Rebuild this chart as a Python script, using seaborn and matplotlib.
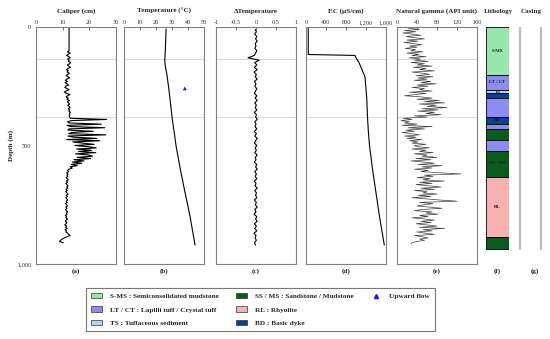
import numpy as np
import pandas as pd
import seaborn as sns
import matplotlib.pyplot as plt
from matplotlib.patches import Patch
from matplotlib.lines import Line2D
from matplotlib.ticker import FuncFormatter

sns.set_style("white")
plt.rcParams["font.family"] = ["Liberation Serif", "DejaVu Serif"]

# --- Daten ---
# Kaliber (cm), alle 5 m ab 0 m
caliper = [12.4] * 21 + [
    11.8, 12.9, 12.1, 11.5, 12.3, 12.8, 11.9, 12.4, 12.1, 13.0, 12.6, 11.8, 12.2, 12.9,
    12.0, 11.4, 12.1, 11.7, 12.5, 12.0, 11.3, 11.9, 12.6, 11.5, 11.0, 11.8, 10.9, 11.6,
    12.2, 11.1, 10.8, 11.7, 12.4, 11.2, 10.6, 11.5, 12.7, 11.9, 11.3, 12.1, 11.6, 12.5,
    11.8, 12.2, 12.6, 11.9, 12.4, 12.8, 12.1, 12.6, 12.3, 12.9, 12.5, 12.7, 12.4,
    12.6, 12.8, 26.5, 13.2, 11.8, 12.5, 24.5, 11.6, 13.0, 25.8, 12.4, 11.9, 21.5, 13.5,
    12.2, 26.2, 12.0, 14.0, 22.8, 11.5, 23.9, 13.8, 17.5, 21.8, 14.6, 19.5, 22.6, 15.2,
    20.8, 16.0, 22.4, 14.8, 19.6, 21.2, 15.4, 20.5, 14.2, 18.0, 13.6, 17.2, 13.2, 15.5,
    12.8, 13.6, 12.4,
    11.8, 12.2, 11.5, 12.0, 11.6, 11.9, 11.3, 11.7, 12.1, 11.4, 11.8, 11.2, 11.6, 12.0,
    11.5, 11.9, 11.3, 11.7, 11.1, 11.6, 12.0, 11.4, 11.8, 11.2, 11.5, 11.9, 11.3, 11.7,
    11.0, 11.5, 11.8, 11.2, 11.6, 11.1, 11.4, 11.9, 11.3, 11.7, 11.0, 11.5, 11.2, 11.8,
    11.4, 11.0, 11.6, 11.3, 10.8, 11.5, 11.1, 11.7, 10.9, 11.4, 11.2, 11.9, 12.3, 12.8,
    11.6, 10.6, 9.8, 9.2, 8.8, 10.2]
cal_depth = np.arange(len(caliper)) * 5

# Temperatur (°C)
temp_depth = [8, 50, 100, 140, 160, 200, 250, 300, 380, 450, 500, 600, 700, 800, 920]
temperature = [26.3, 26.1, 25.8, 25.5, 25.7, 26.8, 27.8, 28.7, 30.0, 31.5, 32.5, 35.2, 38.2, 41.3, 44.4]

# Aufwärtsströmung
flow_depth = [259]
flow_temp = [38]

# Delta-Temperatur, alle 10 m ab 10 m
delta_t = [
    -0.02, 0.01, -0.03, 0.02, -0.01, 0.03, -0.02, 0.00, -0.03, 0.02, -0.01, -0.04, -0.20,
    0.08, -0.03, 0.02, -0.04, 0.03, -0.05, 0.01, -0.02, 0.03, -0.04, 0.00, -0.03, 0.02,
    -0.01, -0.04, 0.02, -0.02, 0.03, -0.03, 0.01, -0.02, 0.02, -0.04, 0.01, -0.01, 0.03,
    -0.03, 0.00, -0.02, 0.02, -0.04, 0.01, -0.03, 0.03, -0.01, -0.04, 0.02, -0.02, 0.01,
    -0.03, 0.03, -0.02, 0.00, -0.04, 0.02, -0.01, 0.03, -0.03, 0.01, -0.02, 0.02, -0.04,
    0.00, -0.02, 0.03, -0.03, 0.01, -0.01, 0.02, -0.04, 0.01, -0.02, 0.03, -0.03, 0.00,
    -0.05, 0.02, -0.01, 0.03, -0.04, 0.01, -0.03, 0.02, -0.05, 0.00, -0.02, 0.01, -0.04, -0.01]
dt_depth = 10 + np.arange(len(delta_t)) * 10

# Elektrische Leitfähigkeit (µS/cm)
ec_depth = [5, 60, 116, 120, 130, 150, 210, 300, 380, 435, 500, 600, 700, 800, 920]
ec = [45, 45, 45, 980, 1000, 1060, 1180, 1215, 1230, 1245, 1270, 1330, 1400, 1470, 1566]

# Natürliche Gammastrahlung (API), alle 5 m ab 5 m
gamma = [
    22, 45, 15, 38, 12, 30, 48, 18, 35, 55, 20, 42, 14, 33, 50, 25, 40, 16, 37, 28, 52, 19,
    44, 30, 58, 24, 47,
    35, 62, 28, 55, 40, 70, 32, 58, 45, 75, 30, 52, 65, 38, 72, 42, 60, 35, 68, 48, 78, 40,
    62, 30, 55, 45, 70, 25, 58, 38,
    15, 48, 70, 40, 85, 55, 95, 45, 78, 60, 100, 50, 82, 42, 75, 58, 88, 35, 60,
    12, 30, 8, 25, 15, 40, 10, 70, 22, 55, 18, 35, 10, 28, 45, 15, 38, 20, 50, 25, 42, 30,
    58, 35,
    40, 65, 30, 58, 45, 72, 35, 60, 50, 80, 38, 68, 28, 55, 75, 42, 90, 50, 70, 35, 62, 48,
    85, 128, 55, 72, 40, 66, 52, 95, 45, 70, 38, 62, 88, 48, 75, 35, 60, 52, 80, 42, 68, 30,
    58, 85, 120, 45, 72, 55, 40, 65, 90, 50, 35, 70, 58, 82, 45, 62, 30, 55, 75, 48, 68, 38,
    60, 80, 45, 95, 52, 70, 40, 58, 75, 35, 50, 62, 45, 55, 40, 30, 28]
gamma_depth = 5 + np.arange(len(gamma)) * 5

# Lithologie
litho_top = [0, 203, 266, 280, 298, 378, 409, 429, 477, 522, 632, 887]
litho_bottom = [203, 266, 280, 298, 378, 409, 429, 477, 522, 632, 887, 938]
litho_code = ["S-MS", "LT / CT", "TS", "BD", "LT / CT", "BD", "LT / CT", "SS / MS",
              "LT / CT", "SS / MS", "RL", "SS / MS"]
litho_colors = {"S-MS": "#96e6ae", "LT / CT": "#8c8cf2", "TS": "#a8d8f5",
                "SS / MS": "#0b5a1e", "RL": "#f7b2b0", "BD": "#0a3f9a"}
litho_names = {"S-MS": "Semiconsolidated mudstone", "LT / CT": "Lapilli tuff / Crystal tuff",
               "TS": "Tuffaceous sediment", "SS / MS": "Sandstone / Mudstone",
               "RL": "Rhyolite", "BD": "Basic dyke"}
litho_label_depth = {"S-MS": 100, "LT / CT": 233, "TS": 273, "BD": 393, "SS / MS": 575, "RL": 760}

casing_bottom = 935
marker_depths = [137, 378]

# --- Abbildung ---
fig = plt.figure(figsize=(5.5, 3.39), dpi=100)
top = 1 - 27 / 339
height = (264 - 27) / 339
bottom = top - height
lefts = [36, 124, 216, 306, 397]
width = 80

panels = [
    ("Caliper (cm)", caliper, cal_depth, (0, 30), [0, 10, 20, 30], "(a)"),
    ("Temperature (\u00b0C)", temperature, temp_depth, (0, 50), [0, 10, 20, 30, 40, 50], "(b)"),
    ("\u0394Temperature", delta_t, dt_depth, (-1, 1), [-1, -0.5, 0, 0.5, 1], "(c)"),
    ("EC (\u00b5S/cm)", ec, ec_depth, (0, 1600), [0, 400, 800, 1200, 1600], "(d)"),
    ("Natural gamma (API unit)", gamma, gamma_depth, (0, 160), [0, 40, 80, 120, 160], "(e)"),
]

fmt_num = FuncFormatter(lambda v, p: f"{v:,.0f}" if float(v).is_integer() else f"{v:g}")
spine_col = "#808080"
title_fs = 5.1

for i, (title, vals, depth, xlim, xticks, tag) in enumerate(panels):
    ax = fig.add_axes([lefts[i] / 550, bottom, width / 550, height])
    for d in marker_depths:
        ax.axhline(d, color="#d4d4d4", lw=0.6, zorder=0)
    df = pd.DataFrame({"v": vals, "d": depth})
    if i == 4:
        sns.lineplot(data=df, x="v", y="d", orient="y", sort=False, estimator=None,
                     color="#404040", lw=0.5, ax=ax)
    else:
        sns.lineplot(data=df, x="v", y="d", orient="y", sort=False, estimator=None,
                     color="black", lw=0.8, ax=ax)
    if i == 1:
        sns.scatterplot(x=flow_temp, y=flow_depth, marker="^", color="#2020c8", s=8,
                        edgecolor="none", ax=ax, zorder=5)
    ax.set_xlim(*xlim)
    ax.set_ylim(1000, 0)
    ax.set_xticks(xticks)
    ax.xaxis.set_major_formatter(fmt_num)
    ax.xaxis.tick_top()
    ax.tick_params(axis="x", direction="in", length=2, width=0.5, pad=1.5,
                   labelsize=4.5, colors="#333333")
    ax.set_yticks([0, 250, 500, 750, 1000])
    ax.tick_params(axis="y", direction="out", length=2, width=0.5, pad=1.5,
                   labelsize=4.5, colors="#333333")
    if i == 0:
        ax.set_yticklabels(["0", "", "500", "", "1,000"])
        ax.set_ylabel("Depth (m)", fontsize=title_fs, fontweight="bold", labelpad=2)
    else:
        ax.set_yticklabels([])
        ax.set_ylabel("")
    ax.set_xlabel("")
    for s in ax.spines.values():
        s.set_color(spine_col)
        s.set_linewidth(0.8)
    fig.text((lefts[i] + width / 2) / 550, 1 - 11 / 339, title, ha="center", va="center",
             fontsize=title_fs, fontweight="bold")
    fig.text((lefts[i] + width / 2) / 550, 1 - 271 / 339, tag, ha="center", va="center",
             fontsize=title_fs, fontweight="bold")

# Lithologie-Säule
axl = fig.add_axes([486 / 550, bottom, 23 / 550, height])
for t, b, c in zip(litho_top, litho_bottom, litho_code):
    axl.bar(0, b - t, bottom=t, width=1, color=litho_colors[c], edgecolor="black", lw=0.6)
for c, d in litho_label_depth.items():
    axl.text(0, d, c, ha="center", va="center", fontsize=3.4, fontweight="bold", color="#1a1a1a")
axl.set_xlim(-0.5, 0.5)
axl.set_ylim(1000, 0)
axl.axis("off")
fig.text(498 / 550, 1 - 11 / 339, "Lithology", ha="center", va="center", fontsize=title_fs, fontweight="bold")
fig.text(497.5 / 550, 1 - 271 / 339, "(f)", ha="center", va="center", fontsize=title_fs, fontweight="bold")

# Verrohrung
axc = fig.add_axes([512 / 550, bottom, 36 / 550, height])
for xc in [0.22, 0.8]:
    axc.plot([xc, xc], [0, casing_bottom], color="#bdbdbd", lw=1.6)
axc.set_xlim(0, 1)
axc.set_ylim(1000, 0)
axc.axis("off")
fig.text(531 / 550, 1 - 11 / 339, "Casing", ha="center", va="center", fontsize=title_fs, fontweight="bold")
fig.text(535 / 550, 1 - 271 / 339, "(g)", ha="center", va="center", fontsize=title_fs, fontweight="bold")

# Legende (spaltenweise: 3 + 3 + 1)
order = ["S-MS", "LT / CT", "TS", "SS / MS", "RL", "BD"]
handles = [Patch(facecolor=litho_colors[c], edgecolor="#333333", lw=0.5) for c in order]
labels = [f"{c} : {litho_names[c]}" for c in order]
handles.append(Line2D([], [], marker="^", color="#2020c8", linestyle="None", markersize=3))
labels.append("Upward flow")
for _ in range(2):
    handles.append(Patch(facecolor="none", edgecolor="none"))
    labels.append("")
leg = fig.legend(handles, labels, loc="center", bbox_to_anchor=(260.5 / 550, 1 - 309.5 / 339),
                 ncol=3, frameon=True, fancybox=False, handlelength=1.6,
                 handleheight=0.8, handletextpad=1.0, columnspacing=2.4, labelspacing=1.0,
                 borderpad=0.7, prop={"weight": "bold", "size": 5.2})
leg.get_frame().set_edgecolor("#555555")
leg.get_frame().set_linewidth(0.8)

fig.savefig("out.png", dpi=100)
